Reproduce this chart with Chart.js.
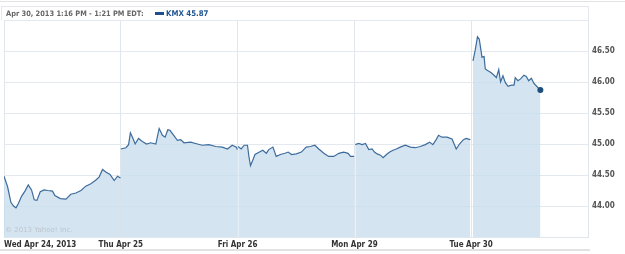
<!DOCTYPE html>
<html>
<head>
<meta charset="utf-8">
<script src="https://cdn.jsdelivr.net/npm/chart.js@4/dist/chart.umd.min.js"></script>
<style>
  body { margin: 0; background: #fff; }
  #wrap { position: relative; width: 625px; height: 254px; overflow: hidden; }
  #topline { position: absolute; left: 0; top: 1px; width: 625px; height: 1px; background: #e3e3e3; }
  #head { position: absolute; left: 1px; top: 6px; width: 586px; height: 13px; border: 1px solid #e4e8ec; border-bottom: none;
          font: bold 7.4px "DejaVu Sans Condensed", "DejaVu Sans", sans-serif; color: #666; line-height: 13px; white-space: nowrap; }
  #head .t { position: absolute; left: 4px; top: 0; }
  #head .sw { position: absolute; left: 153px; top: 5px; width: 9px; height: 3px; background: #1f4e8c; }
  #head .k { position: absolute; left: 164px; top: 0; color: #1f5591; font-size: 7.8px; }
  #copy { position: absolute; left: 5px; top: 226px; font: 7px "DejaVu Sans", sans-serif; color: #bcc5ce; }
  #botline { position: absolute; left: 0; top: 249px; width: 590px; height: 2px; background: #e2e2e2; }
  canvas { position: absolute; left: 0; top: 0; }
</style>
</head>
<body>
<div id="wrap">
  <div id="topline"></div>
  <canvas id="c" width="625" height="254"></canvas>
  <div id="head"><span class="t">Apr 30, 2013 1:16 PM - 1:21 PM EDT:</span><span class="sw"></span><span class="k">KMX 45.87</span></div>
  <div id="copy">© 2013 Yahoo! Inc.</div>
  <div id="botline"></div>
</div>
<script>
// tick labels
const dayLabels = ['Wed Apr 24, 2013', 'Thu Apr 25', 'Fri Apr 26', 'Mon Apr 29', 'Tue Apr 30'];
const yTicks = [44.0, 44.5, 45.0, 45.5, 46.0, 46.5];

// minutes after 9:30 open, and price, per session
const wedTime  = [0, 12, 23, 32, 40, 48, 59, 70, 81, 92, 101, 110, 121, 134, 146, 162, 170, 188, 207, 223, 240, 257, 273, 290, 307, 318, 329, 340, 354, 368, 379, 389];
const wedPrice = [44.48, 44.31, 44.06, 44.00, 43.97, 44.04, 44.16, 44.24, 44.34, 44.26, 44.10, 44.09, 44.23, 44.26, 44.25, 44.24, 44.17, 44.12, 44.11, 44.19, 44.21, 44.25, 44.32, 44.36, 44.42, 44.47, 44.59, 44.55, 44.51, 44.41, 44.48, 44.45];

const thuTime  = [0, 17, 26, 32, 39, 48, 59, 72, 86, 100, 117, 128, 139, 148, 157, 164, 178, 189, 200, 211, 233, 256, 272, 294, 317, 339, 356, 372, 386, 389];
const thuPrice = [44.92, 44.94, 44.99, 45.18, 45.11, 45.00, 45.09, 45.04, 45.00, 45.02, 45.00, 45.25, 45.14, 45.11, 45.23, 45.22, 45.13, 45.06, 45.07, 45.02, 45.03, 45.00, 44.98, 44.99, 44.96, 44.95, 44.92, 44.98, 44.95, 44.91];

const friTime  = [2, 12, 22, 33, 38, 43, 50, 58, 73, 84, 96, 104, 118, 129, 143, 158, 169, 180, 196, 213, 229, 243, 258, 271, 288, 304, 321, 338, 354, 369, 377, 389];
const friPrice = [44.96, 44.92, 44.98, 44.98, 44.79, 44.65, 44.73, 44.83, 44.87, 44.90, 44.85, 44.91, 44.95, 44.80, 44.83, 44.85, 44.87, 44.83, 44.84, 44.87, 44.95, 44.96, 44.98, 44.92, 44.85, 44.80, 44.80, 44.85, 44.87, 44.85, 44.80, 44.80];

const monTime  = [3, 14, 26, 37, 48, 59, 67, 76, 87, 96, 107, 118, 129, 140, 153, 170, 187, 203, 220, 237, 251, 262, 273, 281, 292, 309, 326, 333, 340, 351, 364, 373, 387];
const monPrice = [44.99, 45.01, 44.99, 45.01, 44.91, 44.92, 44.87, 44.84, 44.82, 44.78, 44.83, 44.87, 44.90, 44.92, 44.95, 44.98, 44.95, 44.94, 44.96, 44.99, 45.03, 44.99, 45.07, 45.14, 45.11, 45.11, 45.08, 45.00, 44.92, 45.00, 45.07, 45.09, 45.07];

const tueTime  = [6, 14, 21, 27, 32, 36, 43, 47, 56, 67, 78, 84, 92, 98, 106, 114, 123, 134, 143, 147, 156, 165, 176, 184, 192, 201, 209, 217, 231];
const tuePrice = [46.34, 46.53, 46.73, 46.69, 46.53, 46.40, 46.41, 46.21, 46.18, 46.15, 46.10, 46.07, 46.20, 46.00, 46.10, 45.99, 45.93, 45.95, 45.95, 46.07, 46.02, 46.05, 46.11, 46.09, 46.02, 46.06, 45.98, 45.94, 45.87];

const SESSION = 390;
const sessions = [[wedTime, wedPrice], [thuTime, thuPrice], [friTime, friPrice], [monTime, monPrice], [tueTime, tuePrice]];
const points = [];
sessions.forEach(([t, p], d) => {
  if (d > 0) points.push({x: d * SESSION - 0.5, y: null});
  t.forEach((m, i) => points.push({x: d * SESSION + m, y: p[i]}));
});
const last = points.length - 1;

const labelFont = {family: '"DejaVu Sans Condensed", "DejaVu Sans", sans-serif', size: 8, weight: 'bold'};

new Chart(document.getElementById('c'), {
  type: 'line',
  data: {
    datasets: [{
      data: points,
      borderColor: '#3d6c9c',
      borderWidth: 1.2,
      backgroundColor: 'rgba(197,220,236,0.75)',
      fill: 'start',
      tension: 0,
      spanGaps: false,
      pointRadius: c => c.dataIndex === last ? 3 : 0,
      pointBackgroundColor: '#1f4e7a',
      pointBorderWidth: 0
    }]
  },
  options: {
    responsive: false,
    animation: false,
    layout: { padding: { left: 3, top: 20, right: 0, bottom: 0 } },
    plugins: { legend: { display: false }, tooltip: { enabled: false } },
    scales: {
      x: {
        type: 'linear',
        min: 0,
        max: 5 * SESSION,
        afterBuildTicks: s => { s.ticks = [0, 1, 2, 3, 4, 5].map(d => ({value: d * SESSION})); },
        afterFit: s => { s.height = 17; },
        ticks: {
          autoSkip: false,
          maxRotation: 0,
          align: 'inner',
          padding: 3,
          font: labelFont,
          color: '#333',
          callback: v => dayLabels[Math.round(v / SESSION)] || ''
        },
        grid: { color: '#dfe6ec', drawTicks: false },
        border: { color: '#dfe6ec' }
      },
      y: {
        position: 'right',
        min: 43.5,
        max: 47.0,
        afterBuildTicks: s => { s.ticks = [43.5].concat(yTicks, [47.0]).map(v => ({value: v})); },
        afterFit: s => { s.width = 37; },
        ticks: {
          padding: 4,
          font: labelFont,
          color: '#555',
          callback: v => yTicks.includes(v) ? v.toFixed(2) : ''
        },
        grid: { color: '#e3e9ee', drawTicks: false },
        border: { color: '#dfe6ec' }
      }
    }
  }
});
</script>
</body>
</html>
